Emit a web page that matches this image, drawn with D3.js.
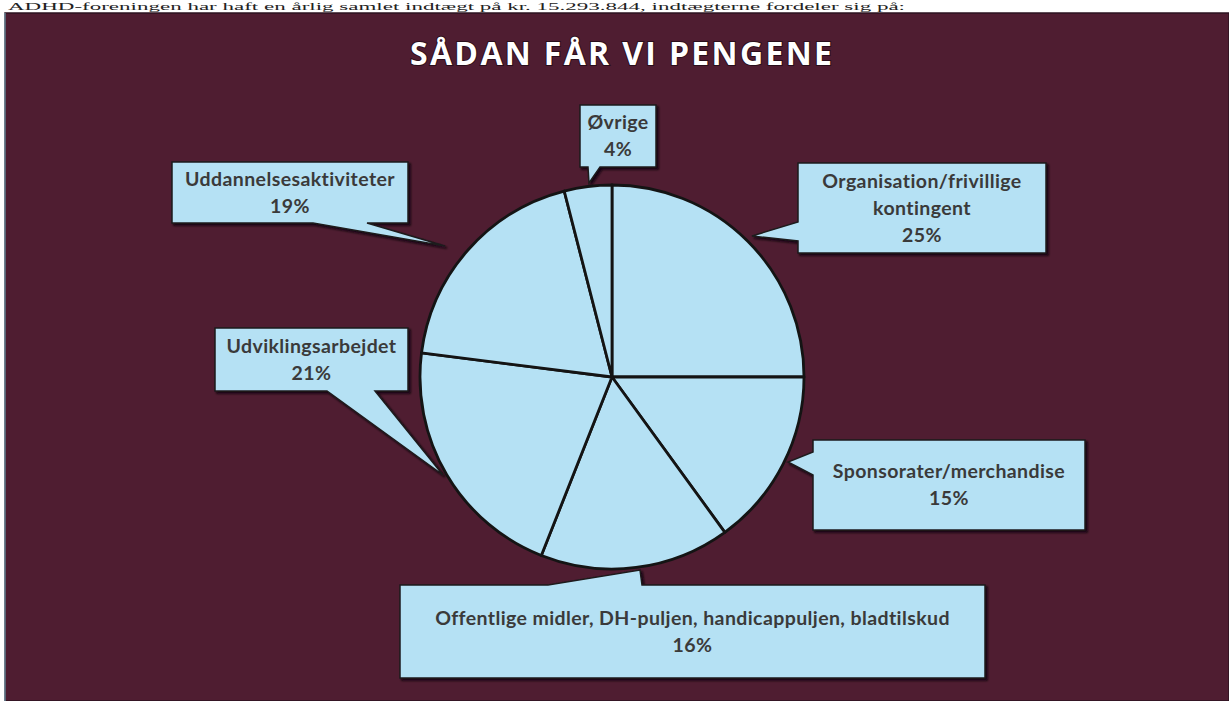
<!DOCTYPE html>
<html>
<head>
<meta charset="utf-8">
<script src="https://cdn.jsdelivr.net/npm/d3@7"></script>
<style>
  html, body { margin: 0; padding: 0; background: #ffffff; }
  svg { display: block; }
</style>
</head>
<body>
<div class="chart"></div>
<script>
// data
var categories = [
    "Organisation/frivillige kontingent",
    "Sponsorater/merchandise",
    "Offentlige midler, DH-puljen, handicappuljen, bladtilskud",
    "Udviklingsarbejdet",
    "Uddannelsesaktiviteter",
    "Øvrige"
];
var shares = [25, 15, 16, 21, 19, 4];
// how each label breaks into lines inside its box
var label_lines = [
    ["Organisation/frivillige", "kontingent"],
    ["Sponsorater/merchandise"],
    ["Offentlige midler, DH-puljen, handicappuljen, bladtilskud"],
    ["Udviklingsarbejdet"],
    ["Uddannelsesaktiviteter"],
    ["Øvrige"]
];
var chart_title = "SÅDAN FÅR VI PENGENE";
var intro_text = "ADHD-foreningen har haft en årlig samlet indtægt på kr. 15.293.844, indtægterne fordeler sig på:";

var width = 1229,
    height = 701,
    pie_cx = 612,
    pie_cy = 377,
    pie_r = 192,
    box_fill = "#b5e1f4",
    frame_fill = "#4f1d31",
    text_color = "#3a3a3a",
    line_step = 27;

// callout boxes: [x0, y0, x1, y1], pointer side and the pointer's three points
var callouts = [
    { box: [798, 163, 1046, 253], side: "left",   ptr: [[798, 241], [752, 236], [798, 222]] },
    { box: [813, 440, 1085, 530], side: "left",   ptr: [[813, 475], [788, 462], [813, 452]] },
    { box: [400, 585, 985, 678],  side: "top",    ptr: [[548, 585], [640, 570], [642, 585]] },
    { box: [215, 328, 408, 391],  side: "bottom", ptr: [[375, 391], [443, 475], [327, 391]] },
    { box: [172, 162, 408, 223],  side: "bottom", ptr: [[367, 223], [445, 246], [313, 223]] },
    { box: [580, 105, 656, 167],  side: "bottom", ptr: [[600, 167], [589, 183], [588, 167]] }
];

var svg = d3.select(".chart")
    .append("svg")
    .attr("width", width)
    .attr("height", height);

var defs = svg.append("defs");
defs.append("filter")
    .attr("id", "shade")
    .attr("x", "-10%").attr("y", "-10%")
    .attr("width", "120%").attr("height", "130%")
    .append("feDropShadow")
    .attr("dx", 2).attr("dy", 2)
    .attr("stdDeviation", 1.2)
    .attr("flood-color", "#0d0508")
    .attr("flood-opacity", 0.9);

// scanned line of body text above the figure
svg.append("text")
    .attr("x", 8)
    .attr("y", 10)
    .attr("textLength", 897)
    .attr("lengthAdjust", "spacingAndGlyphs")
    .style("font-family", "'Liberation Serif', 'DejaVu Serif', serif")
    .style("font-size", "11px")
    .style("fill", "#222")
    .text(intro_text);

// the dark frame
svg.append("rect")
    .attr("x", 5)
    .attr("y", 13)
    .attr("width", width - 5)
    .attr("height", height - 13)
    .attr("fill", frame_fill)
    .attr("stroke", "#2c1320")
    .attr("stroke-width", 1.5);

svg.append("line")
    .attr("x1", 5).attr("x2", 5)
    .attr("y1", 13).attr("y2", height)
    .attr("stroke", "#7fb5c8")
    .attr("stroke-width", 1);

// title
svg.append("text")
    .attr("x", 621)
    .attr("y", 65)
    .attr("text-anchor", "middle")
    .attr("textLength", 422)
    .attr("lengthAdjust", "spacing")
    .style("font-family", "'Open Sans', Lato, sans-serif")
    .style("font-weight", "700")
    .style("font-size", "32px")
    .style("fill", "#ffffff")
    .style("stroke", "#2a0e1b")
    .style("stroke-width", 2)
    .style("paint-order", "stroke")
    .text(chart_title);

// callouts
function callout_path(c) {
    var x0 = c.box[0], y0 = c.box[1], x1 = c.box[2], y1 = c.box[3];
    var pts;
    if (c.side === "top") {
        pts = [[x0, y0]].concat(c.ptr, [[x1, y0], [x1, y1], [x0, y1]]);
    } else if (c.side === "bottom") {
        pts = [[x0, y0], [x1, y0], [x1, y1]].concat(c.ptr, [[x0, y1]]);
    } else {
        pts = [[x0, y0], [x1, y0], [x1, y1], [x0, y1]].concat(c.ptr);
    }
    return d3.line()(pts) + "Z";
}

var callout_g = svg.append("g");

callout_g.selectAll("path")
    .data(callouts)
    .join("path")
    .attr("d", callout_path)
    .attr("fill", box_fill)
    .attr("stroke", "#1e1a1c")
    .attr("stroke-width", 1.5)
    .attr("stroke-linejoin", "miter")
    .attr("filter", "url(#shade)");

var label_g = callout_g.selectAll("g.lbl")
    .data(callouts)
    .join("g")
    .attr("class", "lbl");

label_g.each(function (c, i) {
    var lines = label_lines[i].concat([shares[i] + "%"]);
    var cx = (c.box[0] + c.box[2]) / 2,
        cy = (c.box[1] + c.box[3]) / 2;
    var top = cy - (lines.length - 1) * line_step / 2;
    d3.select(this).selectAll("text")
        .data(lines)
        .join("text")
        .attr("x", cx)
        .attr("y", function (d, j) { return top + j * line_step; })
        .attr("dy", "0.35em")
        .attr("text-anchor", "middle")
        .style("font-family", "Lato, 'Open Sans', sans-serif")
        .style("font-weight", "700")
        .style("font-size", "19.5px")
        .style("letter-spacing", "0.4px")
        .style("fill", text_color)
        .text(function (d) { return d; });
});

// pie
var pie = d3.pie()
    .sort(null)
    .value(function (d) { return d; });

var arc = d3.arc()
    .innerRadius(0)
    .outerRadius(pie_r);

svg.append("g")
    .attr("transform", "translate(" + pie_cx + "," + pie_cy + ")")
    .selectAll("path")
    .data(pie(shares))
    .join("path")
    .attr("d", arc)
    .attr("fill", box_fill)
    .attr("stroke", "#141414")
    .attr("stroke-width", 2.8)
    .attr("stroke-linejoin", "round")
    .append("title")
    .text(function (d, i) { return categories[i] + ": " + shares[i] + "%"; });
</script>
</body>
</html>
